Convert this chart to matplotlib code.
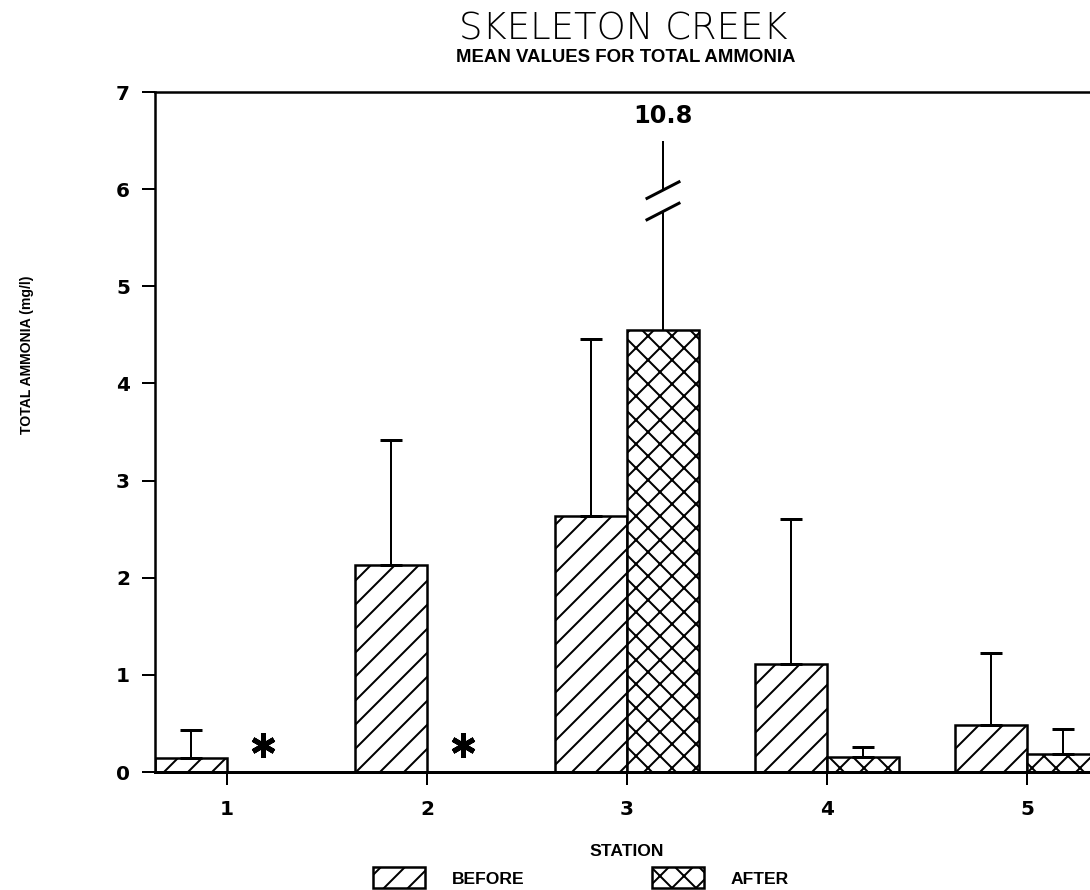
import matplotlib
matplotlib.use("Agg")
import matplotlib.pyplot as plt
from matplotlib import font_manager
import numpy as np

# ---------------- data ----------------
stations = [1, 2, 3, 4, 5]
station_labels = ["1", "2", "3", "4", "5"]
before_mean = [0.145, 2.13, 2.64, 1.11, 0.48]
before_upper = [0.43, 3.42, 4.46, 2.60, 1.23]
after_mean = [np.nan, np.nan, 4.55, 0.15, 0.19]
after_upper = [np.nan, np.nan, 10.8, 0.26, 0.44]
y_ticks = [0, 1, 2, 3, 4, 5, 6, 7]

# ---------------- style ----------------
DPI = 144
PX = 72.0 / DPI  # points per pixel
plt.rcParams["hatch.linewidth"] = 2 * PX
names = {f.name for f in font_manager.fontManager.ttflist}
if "Liberation Sans Narrow" in names:
    narrow, nscale = "Liberation Sans Narrow", 1.0
else:
    narrow, nscale = "Liberation Sans", 0.84

W = 0.36           # bar width (station units)
YTOP = 7
clip_top = 6.5     # where the off-scale error bar is cut
break_lo, break_hi = 5.77, 5.99
slash_dx, slash_dy = 0.08, 0.085
missing_y = 0.28

fig = plt.figure(figsize=(1090 / DPI, 890 / DPI), dpi=DPI)
x0 = 1 - W
x1 = 5.6
ax = fig.add_axes([155 / 1090, 118 / 890, (x1 - x0) * 200 / 1090, 680 / 890])

xs = np.array(stations, dtype=float)
bm = np.array(before_mean)
bu = np.array(before_upper)
am = np.array(after_mean)
au = np.array(after_upper)

b1 = ax.bar(xs - W / 2, bm, W, color="white", edgecolor="black",
            linewidth=2.5 * PX, hatch="//", label="BEFORE", zorder=2)
ok = ~np.isnan(am)
b2 = ax.bar(xs[ok] + W / 2, am[ok], W, color="white", edgecolor="black",
            linewidth=2.5 * PX, hatch="xx", label="AFTER", zorder=2)

# error bars (upper only)
ax.errorbar(xs - W / 2, bm, yerr=[np.zeros_like(bm), bu - bm], fmt="none",
            ecolor="black", elinewidth=2 * PX, capsize=11 * PX,
            capthick=3 * PX, zorder=3)
inr = ok & (au <= YTOP)
ax.errorbar(xs[inr] + W / 2, am[inr], yerr=[np.zeros(inr.sum()), au[inr] - am[inr]],
            fmt="none", ecolor="black", elinewidth=2 * PX, capsize=11 * PX,
            capthick=3 * PX, zorder=3)

# off-scale error bar with break marks
for i in np.where(ok & (au > YTOP))[0]:
    xc = xs[i] + W / 2
    ax.plot([xc, xc], [am[i], break_lo], color="black", lw=2 * PX, zorder=3,
            solid_capstyle="butt")
    ax.plot([xc, xc], [break_hi, clip_top], color="black", lw=2 * PX, zorder=3,
            solid_capstyle="butt")
    for yb in (break_lo, break_hi):
        ax.plot([xc - slash_dx, xc + slash_dx], [yb - slash_dy, yb + slash_dy],
                color="black", lw=3 * PX, zorder=3)
    ax.text(xc, 6.75, f"{au[i]:.1f}", ha="center", va="center",
            fontsize=12, fontweight="bold", family="DejaVu Sans")

# missing-data asterisks
for i in np.where(~ok)[0]:
    ax.plot([xs[i] + W / 2], [missing_y], marker=(6, 2, 0), markersize=24 * PX,
            markeredgewidth=5 * PX, color="black", zorder=3)

ax.set_xlim(x0, x1)
ax.set_ylim(0, YTOP)
ax.set_xticks(stations)
ax.set_xticklabels(station_labels)
ax.set_yticks(y_ticks)
ax.set_yticklabels([str(t) for t in y_ticks])
ax.tick_params(axis="y", direction="out", length=13 * PX, width=2 * PX,
               pad=12 * PX, labelsize=10)
ax.tick_params(axis="x", direction="out", length=13 * PX, width=2 * PX,
               pad=15 * PX, labelsize=10)
for lab in ax.get_xticklabels() + ax.get_yticklabels():
    lab.set_fontweight("bold")
    lab.set_family("DejaVu Sans")

ax.spines["right"].set_visible(False)
ax.spines["left"].set_linewidth(2.5 * PX)
ax.spines["bottom"].set_linewidth(3 * PX)
ax.spines["top"].set_linewidth(2.5 * PX)

# titles and labels
fig.text(623 / 1090, 1 - 29 / 890, "SKELETON CREEK", ha="center", va="center",
         fontsize=18.5, family="DejaVu Sans", fontweight="light")
fig.text(626 / 1090, 1 - 57 / 890, "MEAN VALUES FOR TOTAL AMMONIA", ha="center",
         va="center", fontsize=9.3, fontweight="bold", family="Liberation Sans")
fig.text(627 / 1090, 1 - 851 / 890, "STATION", ha="center", va="center",
         fontsize=10.4 * nscale, fontweight="bold", family=narrow)
fig.text(27 / 1090, 1 - 355 / 890, "TOTAL AMMONIA (mg/l)", ha="center", va="center",
         rotation=90, fontsize=8.3 * nscale, fontweight="bold", family=narrow)

fs = 10.4 * nscale
em = fs / PX
fig.legend(handles=[b1, b2], labels=["BEFORE", "AFTER"], ncol=2,
           loc="lower left", bbox_to_anchor=(373 / 1090, 2 / 890),
           frameon=False, borderpad=0, borderaxespad=0,
           handlelength=52 / em, handleheight=25 / em,
           handletextpad=27 / em, columnspacing=127 / em,
           prop={"family": narrow, "weight": "bold", "size": fs})

fig.savefig("out.png", dpi=DPI)
